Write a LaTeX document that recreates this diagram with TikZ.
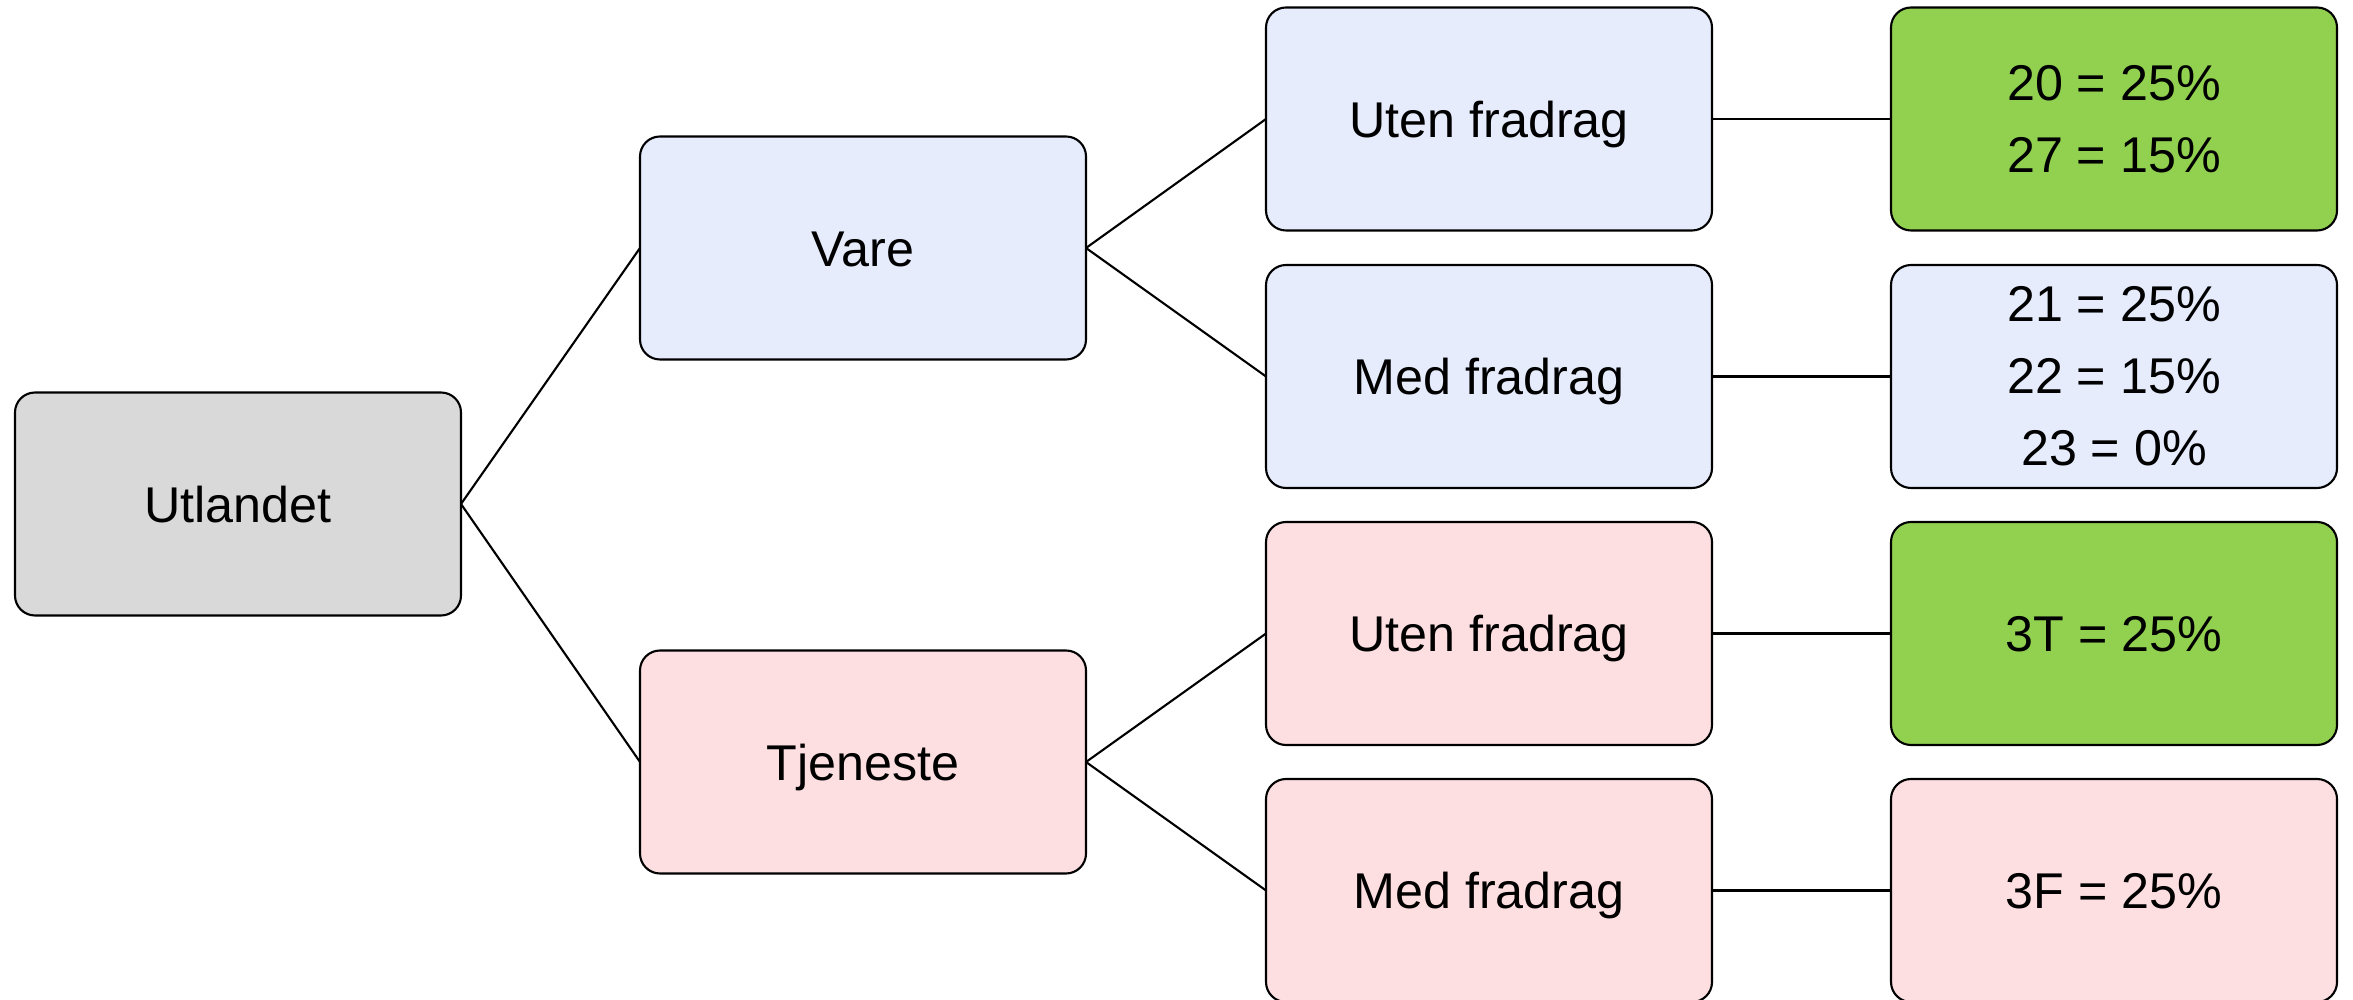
\documentclass[tikz,border=0pt]{standalone}
\usepackage{fontspec}
\setmainfont{Liberation Sans}
\usepackage{tikz}
\usetikzlibrary{positioning}
\usepackage{xcolor}
\definecolor{mvagray}{RGB}{217,217,217}
\definecolor{mvablue}{RGB}{230,236,252}
\definecolor{mvapink}{RGB}{253,223,225}
\definecolor{mvagreen}{RGB}{146,208,80}
\tikzstyle{link} = [line width=0.6pt, color=black]
\tikzstyle{mvabox} = [rectangle, rounded corners=0.2cm, minimum width=4.46cm, minimum height=2.23cm, inner sep=0pt, outer sep=0pt, text centered, align=center, draw=black, line width=0.6pt, font=\fontsize{14.3}{20.5}\selectfont]
\tikzstyle{oneline} = [text height=10.4pt, text depth=0pt]

\begin{document}
\begin{tikzpicture}
\useasboundingbox (0,0) rectangle (23.53,-10);
% Root and first split
\node (utlandet) [mvabox, oneline, fill=mvagray] at (2.38,-5.04) {Utlandet};

\node (vare) [mvabox, oneline, fill=mvablue, right=1.79cm of utlandet, yshift=2.56cm] {Vare};
\node (tjeneste) [mvabox, oneline, fill=mvapink, right=1.79cm of utlandet, yshift=-2.58cm] {Tjeneste};

% Fradrag
\node (vareuten) [mvabox, oneline, fill=mvablue, right=1.8cm of vare, yshift=1.29cm] {Uten fradrag};
\node (varemed) [mvabox, oneline, fill=mvablue, right=1.8cm of vare, yshift=-1.285cm] {Med fradrag};
\node (tjenuten) [mvabox, oneline, fill=mvapink, right=1.8cm of tjeneste, yshift=1.285cm] {Uten fradrag};
\node (tjenmed) [mvabox, oneline, fill=mvapink, right=1.8cm of tjeneste, yshift=-1.285cm] {Med fradrag};

% Codes
\node (kodeA) [mvabox, fill=mvagreen, right=1.79cm of vareuten] {20 = 25\%\\27 = 15\%};
\node (kodeB) [mvabox, fill=mvablue, right=1.79cm of varemed] {21 = 25\%\\22 = 15\%\\23 = 0\%};
\node (kodeC) [mvabox, oneline, fill=mvagreen, right=1.79cm of tjenuten] {3T = 25\%};
\node (kodeD) [mvabox, oneline, fill=mvapink, right=1.79cm of tjenmed] {3F = 25\%};

% Lines
\draw[link] (utlandet.east) -- (vare.west);
\draw[link] (utlandet.east) -- (tjeneste.west);
\draw[link] (vare.east) -- (vareuten.west);
\draw[link] (vare.east) -- (varemed.west);
\draw[link] (tjeneste.east) -- (tjenuten.west);
\draw[link] (tjeneste.east) -- (tjenmed.west);
\draw[link] (vareuten) -- (kodeA);
\draw[link] (varemed) -- (kodeB);
\draw[link] (tjenuten) -- (kodeC);
\draw[link] (tjenmed) -- (kodeD);
\end{tikzpicture}
\end{document}
